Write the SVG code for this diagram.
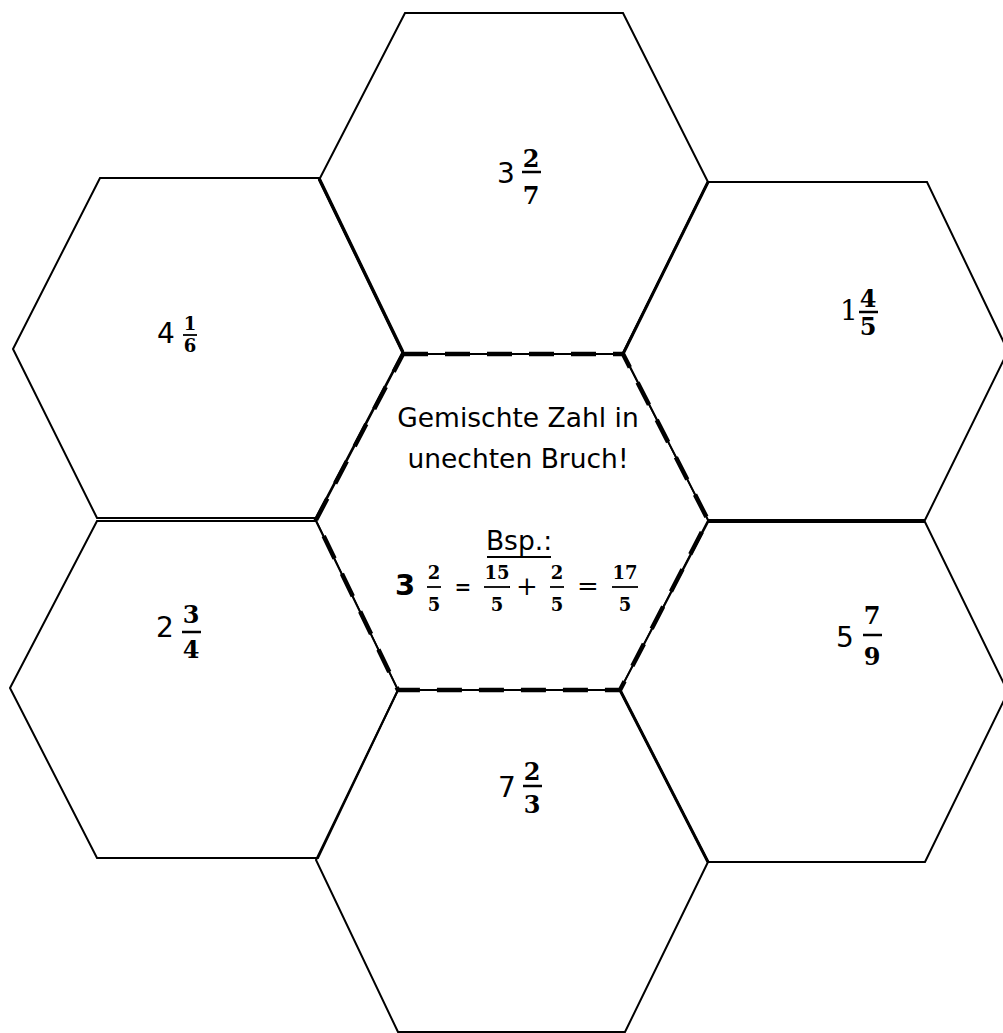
<svg xmlns="http://www.w3.org/2000/svg" width="1003" height="1033" viewBox="0 0 1003 1033">
<style>
.hex{fill:none;stroke:#000;stroke-width:2;stroke-linejoin:miter}
.dash{fill:none;stroke:#000;stroke-width:4.5;stroke-dasharray:25 17}
.thin{fill:none;stroke:#000;stroke-width:1.5}
.w{font-family:"DejaVu Sans",sans-serif;font-size:28px;fill:#000;text-anchor:middle}
.ws{font-family:"DejaVu Serif",serif;font-size:28px;fill:#000;text-anchor:middle}
.f{font-family:"DejaVu Serif",serif;font-weight:bold;font-size:24px;fill:#000;text-anchor:middle}
.fs{font-family:"DejaVu Serif",serif;font-weight:bold;font-size:18px;fill:#000;text-anchor:middle}
.t{font-family:"DejaVu Sans",sans-serif;font-size:26.5px;fill:#000;text-anchor:middle}
.bar{stroke:#000;stroke-width:2.5}
.bar2{stroke:#000;stroke-width:1.8}
</style>
<rect width="1003" height="1033" fill="#fff"/>
<g id="connectors"></g>
<g id="hex-top">
<polygon class="hex" points="405,13 623,13 708,182 623,354 403,354 319,180"/>
<line x1="708" y1="182" x2="623" y2="354" stroke="#000" stroke-width="3"/>
<text class="w" x="506" y="183">3</text>
<text class="f" x="531" y="167">2</text>
<line class="bar" x1="522" y1="172" x2="541" y2="172"/>
<text class="f" x="531" y="204">7</text>
</g>
<g id="hex-upper-left">
<polygon class="hex" points="100,178 319,178 403,352 316,518 97,518 13,349"/>
<line x1="319" y1="178" x2="403" y2="352" stroke="#000" stroke-width="3"/>
<text class="w" x="166" y="343" font-size="26">4</text>
<text class="fs" x="190" y="330">1</text>
<line class="bar2" x1="183" y1="335" x2="197" y2="335"/>
<text class="fs" x="190" y="352">6</text>
</g>
<g id="hex-upper-right">
<polygon class="hex" points="708,182 927,182 1008,351 925,520 708,520 623,353"/>
<text class="ws" x="849" y="320">1</text>
<text class="f" x="868" y="307">4</text>
<line class="bar" x1="859" y1="312" x2="878" y2="312"/>
<text class="f" x="868" y="335">5</text>
</g>
<g id="hex-lower-left">
<polygon class="hex" points="97,521 316,521 398,690 318,858 97,858 10,688"/>
<text class="w" x="165" y="637">2</text>
<text class="f" x="191" y="623">3</text>
<line class="bar" x1="182" y1="632" x2="201" y2="632"/>
<text class="f" x="191" y="658">4</text>
</g>
<g id="hex-lower-right">
<polygon class="hex" points="708,522 925,522 1008,692 925,862 708,862 620,690"/>
<line x1="620" y1="690" x2="708" y2="862" stroke="#000" stroke-width="3"/>
<text class="w" x="845" y="647">5</text>
<text class="f" x="872" y="624">7</text>
<line class="bar" x1="863" y1="635" x2="882" y2="635"/>
<text class="f" x="872" y="665">9</text>
</g>
<g id="hex-bottom">
<polygon class="hex" points="398,690 620,690 708,862 625,1032 398,1032 316,860"/>
<text class="w" x="507" y="797">7</text>
<text class="f" x="532" y="780">2</text>
<line class="bar" x1="523" y1="786" x2="542" y2="786"/>
<text class="f" x="532" y="813">3</text>
</g>
<g id="hex-center">
<polygon class="thin" points="403,354 623,354 708,520 620,690 398,690 316,520"/>
<polygon class="dash" points="403,354 623,354 708,520 620,690 398,690 316,520"/>
<text class="t" x="518" y="427">Gemischte Zahl in</text>
<text class="t" x="518" y="468">unechten Bruch!</text>
<text class="t" x="519" y="550">Bsp.:</text>
<line x1="487" y1="557" x2="551" y2="557" stroke="#000" stroke-width="2"/>
<text x="405" y="595" font-family="DejaVu Sans, sans-serif" font-weight="bold" font-size="29" text-anchor="middle">3</text>
<text class="fs" x="434" y="579">2</text>
<line class="bar2" x1="427" y1="587" x2="441" y2="587"/>
<text class="fs" x="434" y="611">5</text>
<text x="463" y="594" font-family="DejaVu Sans, sans-serif" font-weight="bold" font-size="20" text-anchor="middle">=</text>
<text class="fs" x="497" y="579">15</text>
<line class="bar2" x1="484" y1="587" x2="510" y2="587"/>
<text class="fs" x="497" y="611">5</text>
<text x="527" y="595" font-family="DejaVu Serif, serif" font-size="26" text-anchor="middle">+</text>
<text class="fs" x="557" y="579">2</text>
<line class="bar2" x1="550" y1="587" x2="564" y2="587"/>
<text class="fs" x="557" y="611">5</text>
<text x="588" y="595" font-family="DejaVu Serif, serif" font-size="26" text-anchor="middle">=</text>
<text class="fs" x="625" y="579">17</text>
<line class="bar2" x1="612" y1="587" x2="638" y2="587"/>
<text class="fs" x="625" y="611">5</text>
</g>
</svg>
